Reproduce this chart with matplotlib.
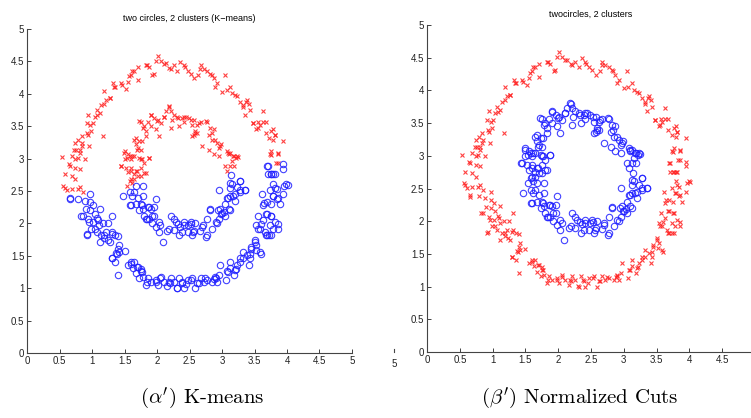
"""
Two circles data set, clustered with K-means and with normalized cuts.
"""

import matplotlib
matplotlib.use("Agg")
import matplotlib.pyplot as plt
import numpy as np
from matplotlib.lines import Line2D

plt.rcParams["mathtext.fontset"] = "cm"

# outer circle
outer_x = [2.01, 1.98, 2.06, 2.14, 2.19, 2.26, 2.31, 2.36, 2.41, 2.47, 2.52, 2.57, 2.63, 2.67,
           2.72, 2.77, 2.82, 2.87, 2.92, 3.05, 3.00, 3.13, 3.15, 3.23, 3.28, 3.33, 3.38, 3.41,
           3.43, 3.36, 1.88, 1.83, 1.93, 1.70, 1.62, 1.70, 1.60, 1.55, 1.53, 1.45, 1.35, 1.32,
           1.19, 1.27, 1.22, 1.14, 1.12, 1.07, 1.04, 0.94, 0.97, 0.92, 0.99, 0.94, 1.17, 0.84,
           0.79, 0.74, 0.76, 0.84, 0.81, 0.69, 0.54, 0.74, 0.89, 0.64, 0.74, 0.81, 0.58, 0.69,
           0.74, 0.56, 0.61, 0.69, 0.81, 0.86, 0.97, 0.79, 0.89, 0.97, 1.02, 0.97, 1.04, 1.12,
           0.86, 0.94, 1.02, 1.09, 1.17, 1.25, 1.31, 0.99, 1.07, 1.14, 1.22, 1.30, 1.35, 0.92,
           1.12, 1.19, 1.27, 1.40, 1.37, 1.42, 1.30, 1.35, 1.40, 1.55, 1.60, 1.65, 1.63, 1.70,
           1.68, 1.75, 1.78, 1.73, 1.83, 1.86, 1.91, 1.98, 2.01, 2.06, 2.11, 2.16, 2.21, 2.26,
           2.31, 2.34, 2.39, 2.41, 2.47, 2.54, 2.59, 2.62, 2.67, 2.72, 2.77, 2.85, 2.90, 2.95,
           2.92, 2.97, 3.08, 3.13, 3.18, 3.13, 3.23, 3.28, 3.33, 3.38, 3.43, 3.45, 3.53, 3.50,
           3.58, 3.41, 3.56, 3.53, 3.58, 3.66, 3.69, 3.76, 3.63, 3.69, 3.76, 3.81, 3.74, 3.86,
           3.63, 3.69, 3.79, 3.84, 3.89, 3.61, 3.74, 3.79, 3.84, 3.94, 3.96, 3.99, 3.71, 3.76,
           3.79, 3.69, 3.86, 3.94, 3.94, 3.74, 3.76, 3.86, 3.94, 3.79, 3.81, 3.76, 3.68, 3.79,
           3.63, 3.58, 3.56, 3.63, 3.48, 3.53, 3.68, 1.50, 1.40, 1.08, 0.90, 0.66, 2.45, 2.88,
           3.20, 1.76, 2.20,
           0.73, 0.78, 0.66, 0.93, 1.01, 1.08, 1.19, 1.27, 1.34, 1.46, 1.57, 1.65, 1.85, 1.95,
           2.10, 2.21, 0.85, 0.81, 0.96, 2.43, 2.66, 2.84, 2.89, 3.07, 3.20, 3.32, 3.37, 3.48,
           3.55, 3.73, 3.81, 3.75, 3.86, 3.70, 3.83, 3.75, 3.81, 4.01, 0.58, 0.78, 0.66, 0.83,
           0.96, 1.04, 1.11, 0.93, 1.19, 1.31, 1.24, 1.42, 1.39, 1.30, 1.60, 1.69, 1.77, 1.85,
           2.05, 2.18, 2.30, 1.98, 2.38, 2.53, 2.64, 2.74, 2.89, 3.06, 3.09, 3.22, 3.27, 3.32,
           3.43, 3.45, 3.50, 3.52, 3.60, 3.67, 3.73, 3.55, 3.60, 3.78, 3.67, 3.75, 3.86, 3.65,
           3.75, 3.78, 3.86, 3.81]
outer_y = [4.59, 4.51, 4.51, 4.47, 4.40, 4.44, 4.36, 4.49, 4.44, 4.36, 4.31, 4.24, 4.29, 4.44,
           4.39, 4.36, 4.31, 4.24, 4.16, 4.29, 4.03, 4.11, 4.01, 3.96, 3.88, 3.80, 3.91, 3.85,
           3.75, 3.68, 4.41, 4.44, 4.29, 4.41, 4.36, 4.21, 4.29, 4.19, 4.08, 4.16, 4.11, 4.16,
           4.05, 3.93, 3.91, 3.83, 3.70, 3.75, 3.65, 3.68, 3.52, 3.55, 3.42, 3.37, 3.35, 3.35,
           3.29, 3.24, 3.14, 3.19, 3.09, 3.04, 3.02, 2.99, 2.99, 2.91, 2.86, 2.84, 2.76, 2.73,
           2.68, 2.58, 2.51, 2.53, 2.56, 2.48, 2.45, 2.38, 2.35, 2.33, 2.28, 2.20, 2.15, 2.23,
           2.12, 2.07, 2.02, 2.05, 2.00, 2.00, 2.12, 1.92, 1.87, 1.82, 1.87, 1.84, 1.82, 1.82,
           1.72, 1.77, 1.72, 1.61, 1.54, 1.56, 1.46, 1.41, 1.21, 1.36, 1.38, 1.41, 1.31, 1.33,
           1.23, 1.26, 1.18, 1.16, 1.05, 1.16, 1.10, 1.13, 1.05, 1.18, 1.10, 1.03, 1.16, 1.10,
           1.00, 1.16, 1.08, 1.00, 1.13, 1.16, 1.00, 1.08, 1.16, 1.10, 1.13, 1.10, 1.16, 1.21,
           1.10, 1.36, 1.26, 1.31, 1.21, 1.41, 1.36, 1.46, 1.56, 1.51, 1.46, 1.61, 1.66, 1.74,
           1.56, 1.36, 2.12, 1.97, 1.92, 1.87, 1.82, 1.82, 2.05, 2.15, 2.12, 2.02, 1.97, 1.92,
           2.28, 2.33, 2.43, 2.38, 2.30, 2.45, 2.51, 2.61, 2.53, 2.45, 2.58, 2.61, 2.76, 2.76,
           2.76, 2.89, 2.94, 2.91, 2.84, 3.07, 3.12, 3.07, 3.27, 3.29, 3.37, 3.42, 3.40, 3.45,
           3.57, 3.52, 3.57, 3.73, 3.55, 3.45, 3.57, 1.58, 1.80, 2.08, 2.22, 2.40, 1.06, 1.14,
           1.28, 1.30, 1.08,
           3.14, 3.01, 2.89, 3.39, 3.55, 3.67, 3.85, 3.93, 4.11, 4.13, 4.27, 4.36, 4.44, 4.31,
           4.46, 4.39, 3.24, 3.14, 3.19, 4.41, 4.39, 4.29, 4.11, 4.06, 3.98, 3.83, 3.88, 3.55,
           3.47, 3.32, 3.37, 3.06, 3.09, 2.89, 2.94, 2.76, 2.76, 2.60, 2.55, 2.53, 2.37, 2.12,
           2.02, 1.92, 1.97, 1.84, 1.82, 1.87, 1.74, 1.66, 1.53, 1.46, 1.41, 1.33, 1.25, 1.10,
           1.15, 1.10, 1.01, 1.10, 1.10, 1.13, 1.08, 1.15, 1.18, 1.13, 1.25, 1.30, 1.41, 1.46,
           1.53, 1.64, 1.71, 1.59, 1.53, 1.82, 1.82, 1.92, 1.99, 1.92, 2.15, 2.12, 1.99, 2.32,
           2.30, 2.43, 2.40, 2.55]

# inner circle
inner_x = [2.19, 2.14, 2.21, 2.11, 2.26, 2.31, 2.39, 2.44, 2.41, 2.49, 2.57, 2.67, 2.77, 2.54,
           2.62, 2.34, 2.21, 2.06, 2.01, 1.96, 1.91, 1.86, 1.75, 1.78, 1.83, 1.91, 1.98, 2.03,
           1.83, 1.68, 1.73, 1.68, 1.75, 1.70, 2.57, 2.59, 2.62, 2.54, 2.82, 2.87, 2.80, 2.85,
           2.69, 2.80, 2.92, 2.95, 2.97, 2.87, 2.95, 3.08, 3.10, 3.13, 3.18, 3.23, 3.25, 3.05,
           3.08, 3.15, 3.18, 3.13, 3.15, 3.28, 3.23, 3.36, 3.28, 3.20, 3.13, 3.08, 2.95, 3.05,
           2.97, 3.10, 3.03, 3.13, 3.05, 2.95, 2.90, 2.92, 2.82, 2.85, 2.77, 2.77, 2.69, 2.59,
           2.57, 2.52, 2.54, 2.47, 2.39, 2.41, 2.34, 2.29, 2.26, 2.21, 2.19, 2.16, 2.09, 2.03,
           2.03, 1.98, 1.96, 1.98, 1.96, 1.91, 1.86, 1.88, 1.83, 1.80, 1.78, 1.73, 1.75, 1.68,
           1.70, 1.60, 1.58, 1.78, 1.65, 1.47, 1.58, 1.68, 1.78, 1.60, 1.58, 1.65, 1.70, 1.75,
           1.55, 1.68, 1.83, 1.60, 1.45, 1.53, 1.75, 1.50, 1.58, 1.65, 1.73, 1.88, 1.50, 1.55,
           1.80, 1.60, 1.75, 2.36, 2.70, 3.00, 3.20, 1.62, 1.92, 2.48, 2.66,
           1.72, 1.80, 1.90, 2.00, 2.10, 2.18, 2.23, 2.33, 1.65, 1.77, 1.69, 1.49, 1.54, 1.62,
           1.77, 1.87, 1.44, 1.60, 1.69, 1.65, 1.80, 2.41, 2.53, 2.64, 2.76, 2.59, 2.84, 2.89,
           2.99, 3.09, 3.17, 3.22, 3.12, 3.14, 3.27, 1.54, 1.62, 1.77, 1.87, 1.92, 1.85, 2.05,
           2.26, 2.33, 2.41, 2.53, 2.56, 2.76, 2.82, 2.94, 2.99, 3.09, 3.17, 3.27, 3.35, 3.12]
inner_y = [3.80, 3.73, 3.73, 3.65, 3.68, 3.65, 3.63, 3.65, 3.57, 3.63, 3.60, 3.57, 3.57, 3.52,
           3.52, 3.50, 3.47, 3.55, 3.60, 3.63, 3.68, 3.57, 3.57, 3.47, 3.42, 3.50, 3.45, 3.35,
           3.35, 3.32, 3.27, 3.22, 3.14, 3.17, 3.37, 3.42, 3.40, 3.35, 3.47, 3.45, 3.37, 3.29,
           3.19, 3.14, 3.24, 3.17, 3.19, 3.07, 3.04, 3.12, 3.07, 3.09, 3.04, 3.04, 3.03, 2.89,
           2.81, 2.96, 2.89, 2.63, 2.61, 2.66, 2.56, 2.51, 2.48, 2.45, 2.43, 2.40, 2.51, 2.30,
           2.23, 2.23, 2.18, 2.20, 2.12, 2.07, 2.02, 2.00, 2.20, 1.92, 1.82, 2.07, 1.94, 2.00,
           1.89, 2.02, 1.82, 1.87, 1.87, 1.97, 1.82, 2.02, 2.07, 2.12, 1.92, 1.89, 1.72, 2.02,
           1.87, 1.94, 2.12, 2.38, 2.25, 2.23, 2.25, 2.07, 2.07, 2.12, 2.23, 2.20, 2.30, 2.30,
           2.40, 2.28, 2.28, 2.43, 2.48, 2.43, 2.48, 2.58, 2.58, 2.68, 2.66, 2.76, 2.73, 2.73,
           2.79, 2.81, 2.78, 2.86, 2.89, 2.86, 2.86, 2.99, 3.04, 3.04, 3.01, 3.01, 3.12, 3.07,
           2.94, 2.99, 2.99, 1.95, 1.98, 2.16, 2.35, 2.62, 2.00, 1.98, 1.88,
           3.58, 3.50, 3.67, 3.58, 3.65, 3.81, 3.60, 3.62, 3.29, 3.27, 3.14, 3.09, 3.01, 3.04,
           2.99, 3.01, 2.89, 2.81, 2.81, 2.68, 2.78, 3.65, 3.60, 3.55, 3.58, 3.39, 3.39, 3.29,
           3.22, 3.09, 3.04, 3.01, 2.89, 2.74, 2.66, 2.58, 2.43, 2.28, 2.25, 2.12, 2.07, 1.97,
           1.90, 1.99, 2.02, 1.99, 1.87, 1.79, 2.22, 2.20, 2.15, 2.40, 2.43, 2.51, 2.51, 2.55]

x_all = np.array(outer_x + inner_x)
y_all = np.array(outer_y + inner_y)

# K-means split (roughly the line between the two clusters in the picture)
kmeans_red = y_all > 2.345 + 0.15 * x_all
# normalized cuts: outer ring one cluster, inner ring the other
ncut_red = np.array([True] * len(outer_x) + [False] * len(inner_x))

fig = plt.figure(figsize=(7.51, 4.18), dpi=100)

ax1 = fig.add_axes([0.036, 0.1555, 0.4327, 0.775])
ax2 = fig.add_axes([0.5686, 0.158, 0.4368, 0.782])

tick_font = ["Liberation Sans Narrow", "Liberation Sans", "DejaVu Sans"]
tick_vals = [0, 0.5, 1, 1.5, 2, 2.5, 3, 3.5, 4, 4.5, 5]
tick_text = ["0", "0.5", "1", "1.5", "2", "2.5", "3", "3.5", "4", "4.5", "5"]

for ax, red, title, nx in [
    (ax1, kmeans_red, "two circles, 2 clusters (K\u2212means)", 11),
    (ax2, ncut_red, "twocircles, 2 clusters", 10),
]:
    ax.plot(x_all[red], y_all[red], linestyle="", marker="x", color="#ff2020",
            markersize=3.2, markeredgewidth=0.8, alpha=0.85)
    ax.plot(x_all[~red], y_all[~red], linestyle="", marker="o", markerfacecolor="none",
            markeredgecolor="#2020ff", markersize=4.6, markeredgewidth=0.8, alpha=0.85)
    ax.set_xlim(0, 5)
    ax.set_ylim(0, 5)
    # the right plot runs past the page edge, so its last x tick is not seen
    ax.set_xticks(tick_vals[:nx])
    ax.set_xticklabels(tick_text[:nx])
    ax.set_yticks(tick_vals)
    ax.set_yticklabels(tick_text)
    for lab in ax.get_xticklabels() + ax.get_yticklabels():
        lab.set_family(tick_font)
    ax.tick_params(direction="in", length=3, width=0.6, labelsize=7, pad=2,
                   colors="#222222")
    ax.spines["top"].set_visible(False)
    ax.spines["right"].set_visible(False)
    for s in ["left", "bottom"]:
        ax.spines[s].set_linewidth(0.8)
        ax.spines[s].set_color("#444444")
    ax.set_title(title, fontsize=6.5, family=tick_font, pad=6)

# leftover bits of the neighbouring figure
fig.text(0.5245, 0.128, "5", fontsize=7, family=tick_font, ha="center", va="center",
         color="#222222")
fig.add_artist(Line2D([0.5245, 0.5245], [0.158, 0.166], color="#444444", linewidth=0.8))

fig.text(0.27, 0.047, r"$(\alpha^{\prime})$ K-means", fontsize=15, family="cmr10",
         ha="center", va="center")
fig.text(0.772, 0.047, r"$(\beta^{\prime})$ Normalized Cuts", fontsize=15, family="cmr10",
         ha="center", va="center")

fig.savefig("out.png", dpi=100)
